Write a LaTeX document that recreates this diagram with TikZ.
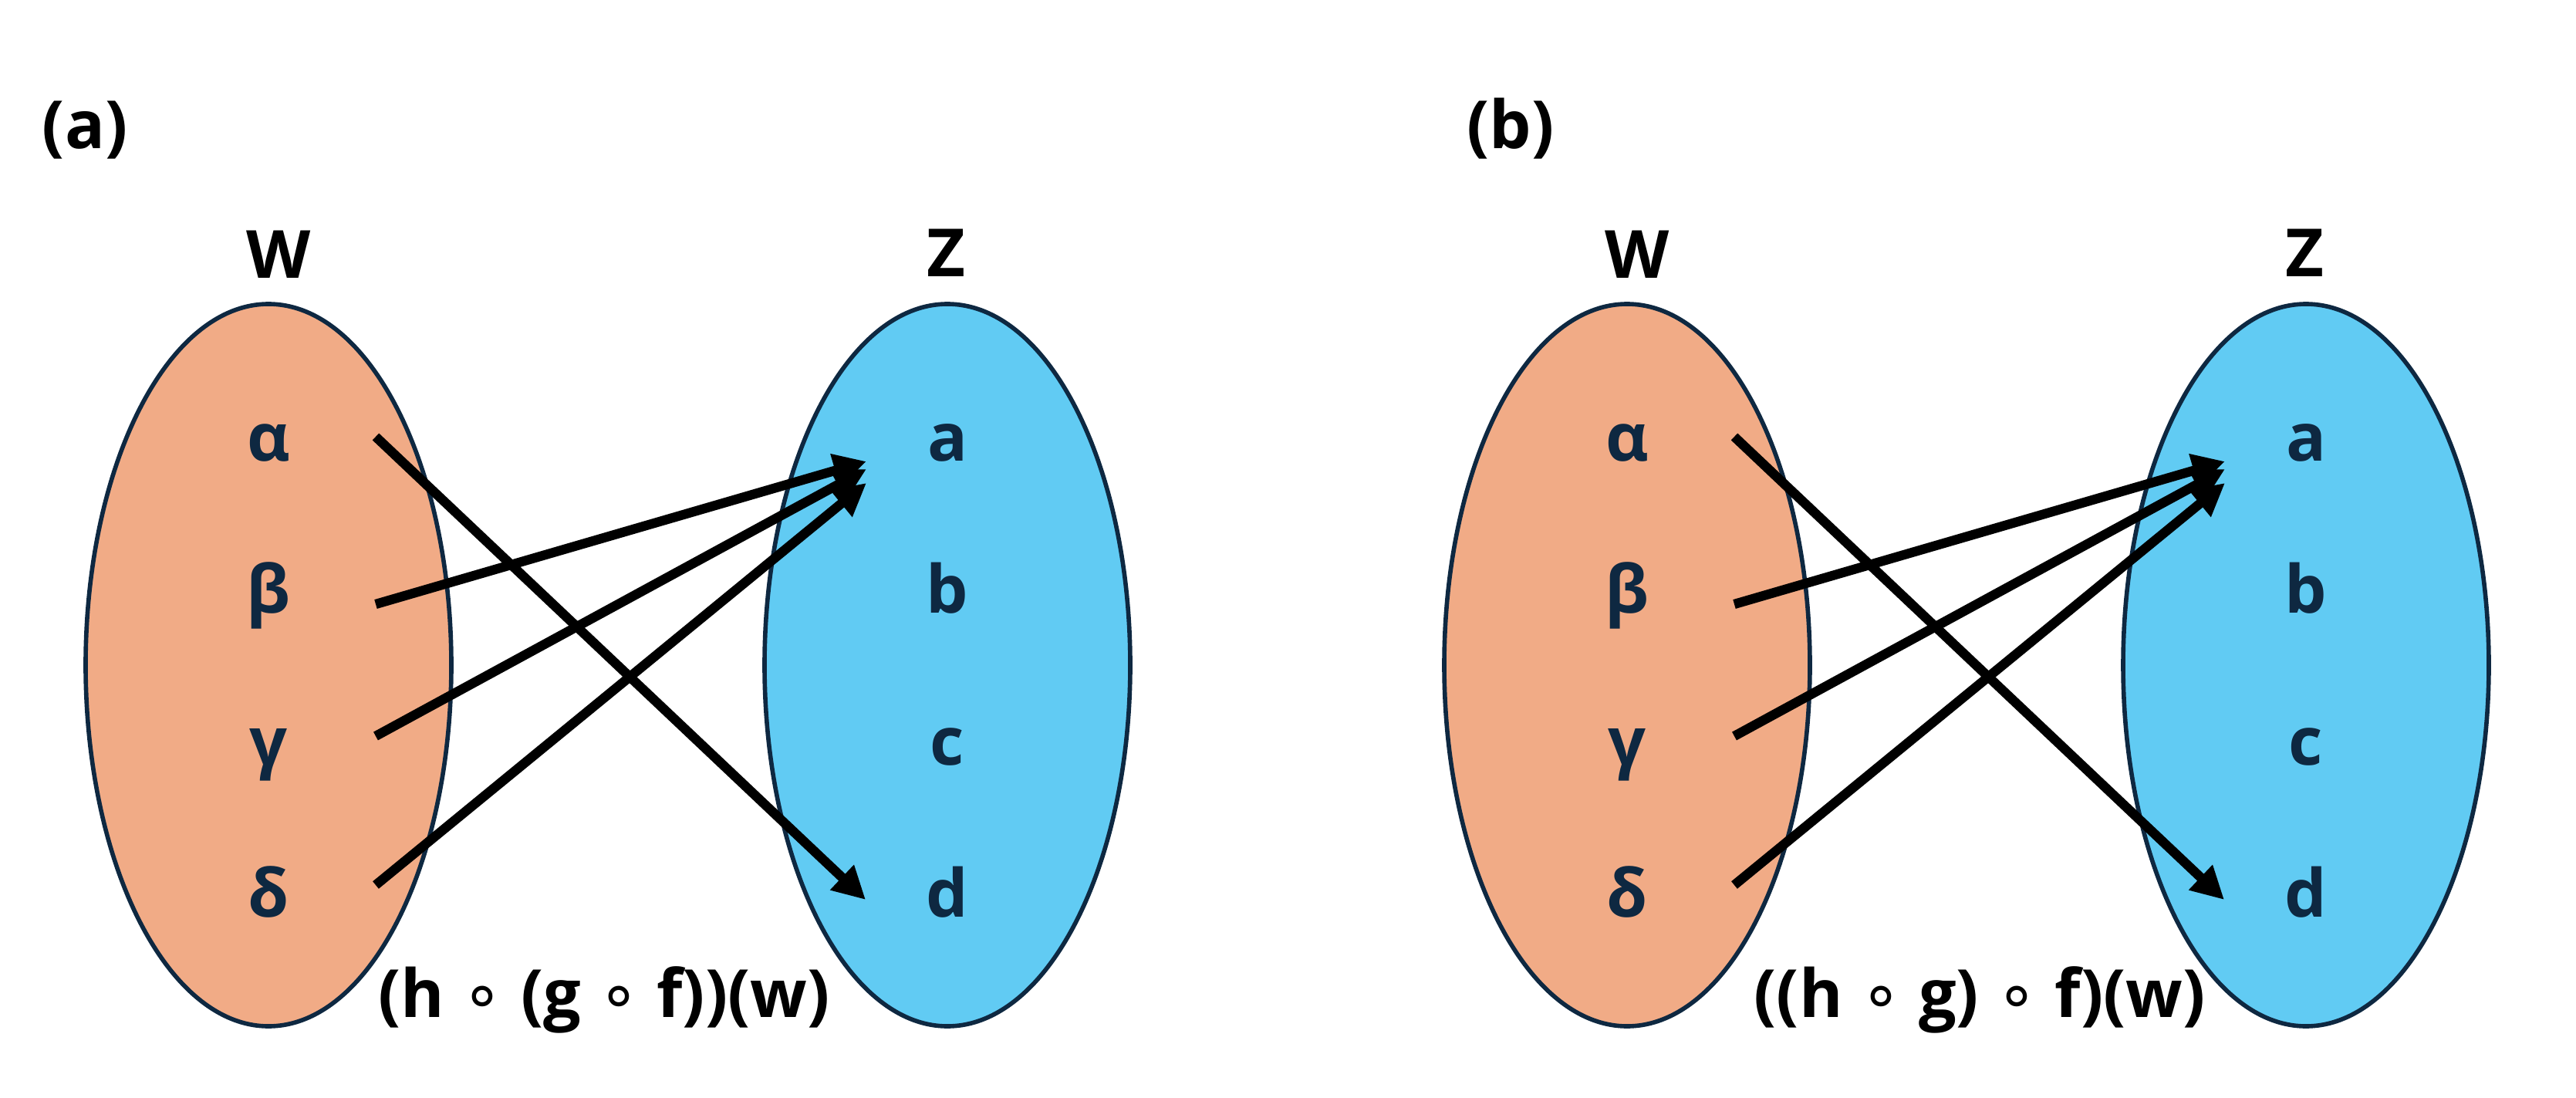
\documentclass[tikz,border=0pt]{standalone}
\usepackage{fontspec}
\setmainfont{Open Sans}
\newfontfamily\ringfont{DejaVu Sans}
\usetikzlibrary{arrows.meta,shapes.geometric}

\definecolor{wfill}{HTML}{F1AB86}
\definecolor{zfill}{HTML}{61CBF3}
\definecolor{setline}{HTML}{0E2841}
\newcommand{\comp}{{\ringfont\mdseries ∘}}

\begin{document}
\begin{tikzpicture}[
    setW/.style={ellipse, draw=setline, line width=1.6pt, fill=wfill,
      minimum width=4.74cm, minimum height=9.36cm, inner sep=0pt},
    setZ/.style={setW, fill=zfill},
    setname/.style={anchor=base, font=\fontsize{24.5}{29}\selectfont\bfseries},
    elem/.style={setname, text=setline},
    map/.style={line width=3.5pt, -{Triangle[length=12pt,width=12pt]}}
  ]
  \useasboundingbox (0,0) rectangle (33.39,-14.23);

  % panel (a)
  \node [setname] (lbla) at (1.10,-1.92) {(a)};
  \node [setW] (Wa) at (3.48,-8.62) {};
  \node [setZ] (Za) at (12.28,-8.62) {};
  \node [setname] (nameWa) at (3.61,-3.60) {W};
  \node [setname] (nameZa) at (12.26,-3.58) {Z};

  \node [elem] (alphaa) at (3.48,-5.97) {α};
  \node [elem] (betaa)  at (3.48,-7.94) {β};
  \node [elem] (gammaa) at (3.48,-9.91) {γ};
  \node [elem] (deltaa) at (3.48,-11.88) {δ};
  \node [elem] (aa) at (12.28,-5.97) {a};
  \node [elem] (ba) at (12.28,-7.94) {b};
  \node [elem] (ca) at (12.28,-9.91) {c};
  \node [elem] (da) at (12.28,-11.88) {d};

  \coordinate (sAa) at (4.87,-5.66);
  \coordinate (sBa) at (4.87,-7.83);
  \coordinate (sGa) at (4.87,-9.54);
  \coordinate (sDa) at (4.87,-11.47);
  \coordinate (tDa) at (11.22,-11.66);
  \coordinate (tBa) at (11.23,-5.98);
  \coordinate (tGa) at (11.23,-6.08);
  \coordinate (tAa) at (11.23,-6.26);

  \draw [map] (sAa) -- (tDa);
  \draw [map] (sBa) -- (tBa);
  \draw [map] (sGa) -- (tGa);
  \draw [map] (sDa) -- (tAa);

  \node [setname] (compa) at (7.83,-13.18) {(h \comp{} (g \comp{} f))(w)};

  % panel (b)
  \node [setname] (lblb) at (19.58,-1.92) {(b)};
  \node [setW] (Wb) at (21.09,-8.62) {};
  \node [setZ] (Zb) at (29.89,-8.62) {};
  \node [setname] (nameWb) at (21.22,-3.60) {W};
  \node [setname] (nameZb) at (29.87,-3.58) {Z};

  \node [elem] (alphab) at (21.09,-5.97) {α};
  \node [elem] (betab)  at (21.09,-7.94) {β};
  \node [elem] (gammab) at (21.09,-9.91) {γ};
  \node [elem] (deltab) at (21.09,-11.88) {δ};
  \node [elem] (ab) at (29.89,-5.97) {a};
  \node [elem] (bb) at (29.89,-7.94) {b};
  \node [elem] (cb) at (29.89,-9.91) {c};
  \node [elem] (db) at (29.89,-11.88) {d};

  \coordinate (sAb) at (22.48,-5.66);
  \coordinate (sBb) at (22.48,-7.83);
  \coordinate (sGb) at (22.48,-9.54);
  \coordinate (sDb) at (22.48,-11.47);
  \coordinate (tDb) at (28.83,-11.66);
  \coordinate (tBb) at (28.84,-5.98);
  \coordinate (tGb) at (28.84,-6.08);
  \coordinate (tAb) at (28.84,-6.26);

  \draw [map] (sAb) -- (tDb);
  \draw [map] (sBb) -- (tBb);
  \draw [map] (sGb) -- (tGb);
  \draw [map] (sDb) -- (tAb);

  \node [setname] (compb) at (25.66,-13.18) {((h \comp{} g) \comp{} f)(w)};
\end{tikzpicture}
\end{document}
